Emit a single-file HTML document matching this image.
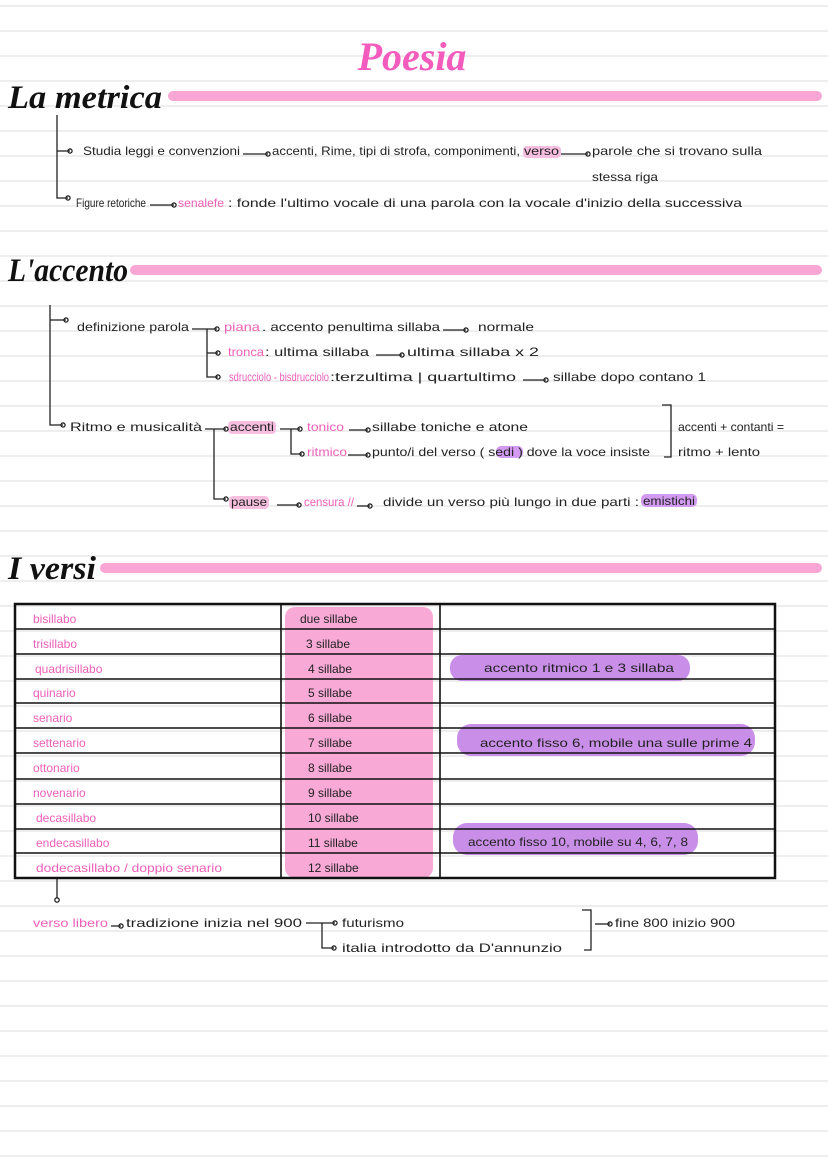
<!DOCTYPE html>
<html><head><meta charset="utf-8"><style>
html,body{margin:0;padding:0;background:#fff;}
svg{display:block;}
text{font-family:"Liberation Sans",sans-serif;font-size:12px;fill:#222;}
.p{fill:#ee5fb9;}
.h{font-family:"Liberation Serif",serif;font-weight:bold;font-style:italic;fill:#111;}
</style></head><body>
<svg width="828" height="1171" viewBox="0 0 828 1171" xmlns="http://www.w3.org/2000/svg">
<defs>
<marker id="a" markerWidth="6" markerHeight="6" refX="3" refY="3" orient="auto"><circle cx="3" cy="3" r="1.6" fill="none" stroke="#222" stroke-width="1"/></marker>
</defs>
<g stroke="#e4e4e4" stroke-width="1.2">
<line x1="0" y1="6" x2="828" y2="6"/><line x1="0" y1="31" x2="828" y2="31"/><line x1="0" y1="56" x2="828" y2="56"/><line x1="0" y1="81" x2="828" y2="81"/><line x1="0" y1="106" x2="828" y2="106"/><line x1="0" y1="131" x2="828" y2="131"/><line x1="0" y1="156" x2="828" y2="156"/><line x1="0" y1="181" x2="828" y2="181"/><line x1="0" y1="206" x2="828" y2="206"/><line x1="0" y1="231" x2="828" y2="231"/><line x1="0" y1="256" x2="828" y2="256"/><line x1="0" y1="281" x2="828" y2="281"/><line x1="0" y1="306" x2="828" y2="306"/><line x1="0" y1="331" x2="828" y2="331"/><line x1="0" y1="356" x2="828" y2="356"/><line x1="0" y1="381" x2="828" y2="381"/><line x1="0" y1="406" x2="828" y2="406"/><line x1="0" y1="431" x2="828" y2="431"/><line x1="0" y1="456" x2="828" y2="456"/><line x1="0" y1="481" x2="828" y2="481"/><line x1="0" y1="506" x2="828" y2="506"/><line x1="0" y1="531" x2="828" y2="531"/><line x1="0" y1="556" x2="828" y2="556"/><line x1="0" y1="581" x2="828" y2="581"/><line x1="0" y1="606" x2="828" y2="606"/><line x1="0" y1="631" x2="828" y2="631"/><line x1="0" y1="656" x2="828" y2="656"/><line x1="0" y1="681" x2="828" y2="681"/><line x1="0" y1="706" x2="828" y2="706"/><line x1="0" y1="731" x2="828" y2="731"/><line x1="0" y1="756" x2="828" y2="756"/><line x1="0" y1="781" x2="828" y2="781"/><line x1="0" y1="806" x2="828" y2="806"/><line x1="0" y1="831" x2="828" y2="831"/><line x1="0" y1="856" x2="828" y2="856"/><line x1="0" y1="881" x2="828" y2="881"/><line x1="0" y1="906" x2="828" y2="906"/><line x1="0" y1="931" x2="828" y2="931"/><line x1="0" y1="956" x2="828" y2="956"/><line x1="0" y1="981" x2="828" y2="981"/><line x1="0" y1="1006" x2="828" y2="1006"/><line x1="0" y1="1031" x2="828" y2="1031"/><line x1="0" y1="1056" x2="828" y2="1056"/><line x1="0" y1="1081" x2="828" y2="1081"/><line x1="0" y1="1106" x2="828" y2="1106"/><line x1="0" y1="1131" x2="828" y2="1131"/><line x1="0" y1="1156" x2="828" y2="1156"/>
</g>
<text x="412" y="70" text-anchor="middle" class="h" style="font-size:40px;fill:#f35bbd;">Poesia</text>
<text x="8" y="108" class="h" style="font-size:33px;" textLength="154" lengthAdjust="spacingAndGlyphs">La metrica</text>
<rect x="168" y="91" width="654" height="10" rx="5" fill="#f8a6d3"/>
<text x="8" y="281" class="h" style="font-size:33px;" textLength="120" lengthAdjust="spacingAndGlyphs">L'accento</text>
<rect x="130" y="265" width="692" height="10" rx="5" fill="#f8a6d3"/>
<text x="8" y="579" class="h" style="font-size:33px;" textLength="88" lengthAdjust="spacingAndGlyphs">I versi</text>
<rect x="100" y="563" width="722" height="10" rx="5" fill="#f8a6d3"/>

<rect x="523" y="146" width="38" height="12" rx="4" fill="#f6bfe0"/>
<rect x="228" y="421" width="48" height="13" rx="4" fill="#f6bfe0"/>
<rect x="229" y="496" width="40" height="13" rx="4" fill="#f6bfe0"/>
<rect x="496" y="446" width="27" height="12" rx="5" fill="#d29af0"/>
<rect x="641" y="494" width="56" height="13" rx="5" fill="#d29af0"/>
<rect x="285" y="607" width="148" height="271" rx="10" fill="#f8a9d6"/>
<rect x="450" y="655" width="240" height="26" rx="12" fill="#c98ee8"/>
<rect x="457" y="724" width="298" height="32" rx="14" fill="#c98ee8"/>
<rect x="453" y="823" width="245" height="32" rx="14" fill="#c98ee8"/>

<g stroke="#222" stroke-width="1.3" fill="none">
<polyline points="57,115 57,198 68,198" marker-end="url(#a)"/>
<line x1="57" y1="151" x2="70" y2="151" marker-end="url(#a)"/>
<line x1="243" y1="154" x2="268" y2="154" marker-end="url(#a)"/>
<line x1="561" y1="154" x2="588" y2="154" marker-end="url(#a)"/>
<line x1="150" y1="205" x2="174" y2="205" marker-end="url(#a)"/>
<polyline points="50,305 50,425 63,425" marker-end="url(#a)"/>
<line x1="50" y1="320" x2="66" y2="320" marker-end="url(#a)"/>
<line x1="192" y1="329" x2="217" y2="329" marker-end="url(#a)"/>
<polyline points="207,329 207,377 218,377" marker-end="url(#a)"/>
<line x1="207" y1="353" x2="218" y2="353" marker-end="url(#a)"/>
<line x1="443" y1="330" x2="466" y2="330" marker-end="url(#a)"/>
<line x1="376" y1="355" x2="402" y2="355" marker-end="url(#a)"/>
<line x1="523" y1="380" x2="546" y2="380" marker-end="url(#a)"/>
<line x1="205" y1="429" x2="226" y2="429" marker-end="url(#a)"/>
<polyline points="214,429 214,499 226,499" marker-end="url(#a)"/>
<line x1="280" y1="429" x2="300" y2="429" marker-end="url(#a)"/>
<polyline points="291,429 291,454 302,454" marker-end="url(#a)"/>
<line x1="349" y1="430" x2="368" y2="430" marker-end="url(#a)"/>
<line x1="348" y1="455" x2="368" y2="455" marker-end="url(#a)"/>
<line x1="277" y1="505" x2="299" y2="505" marker-end="url(#a)"/>
<line x1="357" y1="506" x2="370" y2="506" marker-end="url(#a)"/>
<polyline points="662,405 671,405 671,457 664,457"/>
<line x1="57" y1="878" x2="57" y2="898"/>
<circle cx="57" cy="900" r="2.2"/>
<line x1="111" y1="926" x2="121" y2="926" marker-end="url(#a)"/>
<line x1="306" y1="923" x2="335" y2="923" marker-end="url(#a)"/>
<polyline points="322,923 322,948 334,948" marker-end="url(#a)"/>
<polyline points="582,910 591,910 591,950 584,950"/>
<line x1="595" y1="924" x2="610" y2="924" marker-end="url(#a)"/>
</g>

<g stroke="#111" fill="none">
<rect x="15" y="604" width="760" height="274" stroke-width="2.5"/>
<line x1="281" y1="604" x2="281" y2="878" stroke-width="1.6"/>
<line x1="440" y1="604" x2="440" y2="878" stroke-width="1.6"/>
<g stroke-width="1.6">
<line x1="15" y1="629" x2="775" y2="629"/><line x1="15" y1="654" x2="775" y2="654"/><line x1="15" y1="679" x2="775" y2="679"/><line x1="15" y1="703" x2="775" y2="703"/><line x1="15" y1="728" x2="775" y2="728"/><line x1="15" y1="753" x2="775" y2="753"/><line x1="15" y1="779" x2="775" y2="779"/><line x1="15" y1="804" x2="775" y2="804"/><line x1="15" y1="829" x2="775" y2="829"/><line x1="15" y1="853" x2="775" y2="853"/>
</g>
</g>

<g>
<text x="83" y="155" textLength="157" lengthAdjust="spacingAndGlyphs">Studia leggi e convenzioni</text>
<text x="272" y="155" textLength="248" lengthAdjust="spacingAndGlyphs">accenti, Rime, tipi di strofa, componimenti,</text>
<text x="524" y="155" textLength="35" lengthAdjust="spacingAndGlyphs">verso</text>
<text x="592" y="155" textLength="170" lengthAdjust="spacingAndGlyphs">parole che si trovano sulla</text>
<text x="592" y="181" textLength="66" lengthAdjust="spacingAndGlyphs">stessa riga</text>
<text x="76" y="207" textLength="70" lengthAdjust="spacingAndGlyphs">Figure retoriche</text>
<text x="178" y="207" class="p" textLength="46" lengthAdjust="spacingAndGlyphs">senalefe</text>
<text x="228" y="207" textLength="514" lengthAdjust="spacingAndGlyphs">: fonde l'ultimo vocale di una parola con la vocale d'inizio della successiva</text>

<text x="77" y="331" textLength="112" lengthAdjust="spacingAndGlyphs">definizione parola</text>
<text x="224" y="331" class="p" textLength="36" lengthAdjust="spacingAndGlyphs">piana</text>
<text x="262" y="331" textLength="178" lengthAdjust="spacingAndGlyphs">. accento penultima sillaba</text>
<text x="478" y="331" textLength="56" lengthAdjust="spacingAndGlyphs">normale</text>
<text x="228" y="356" class="p" textLength="36" lengthAdjust="spacingAndGlyphs">tronca</text>
<text x="265" y="356" textLength="104" lengthAdjust="spacingAndGlyphs">: ultima sillaba</text>
<text x="407" y="356" textLength="132" lengthAdjust="spacingAndGlyphs">ultima sillaba x 2</text>
<text x="229" y="381" class="p" textLength="100" lengthAdjust="spacingAndGlyphs">sdrucciolo - bisdrucciolo</text>
<text x="330" y="381" textLength="186" lengthAdjust="spacingAndGlyphs">:terzultima | quartultimo</text>
<text x="553" y="381" textLength="153" lengthAdjust="spacingAndGlyphs">sillabe dopo contano 1</text>
<text x="70" y="431" textLength="132" lengthAdjust="spacingAndGlyphs">Ritmo e musicalità</text>
<text x="230" y="431" textLength="44" lengthAdjust="spacingAndGlyphs">accenti</text>
<text x="307" y="431" class="p" textLength="37" lengthAdjust="spacingAndGlyphs">tonico</text>
<text x="372" y="431" textLength="156" lengthAdjust="spacingAndGlyphs">sillabe toniche e atone</text>
<text x="307" y="456" class="p" textLength="40" lengthAdjust="spacingAndGlyphs">ritmico</text>
<text x="372" y="456" textLength="278" lengthAdjust="spacingAndGlyphs">punto/i del verso ( sedi ) dove la voce insiste</text>
<text x="678" y="431" textLength="106" lengthAdjust="spacingAndGlyphs">accenti + contanti =</text>
<text x="678" y="456" textLength="82" lengthAdjust="spacingAndGlyphs">ritmo + lento</text>
<text x="231" y="506" textLength="36" lengthAdjust="spacingAndGlyphs">pause</text>
<text x="304" y="506" class="p" textLength="50" lengthAdjust="spacingAndGlyphs">censura //</text>
<text x="383" y="506" textLength="256" lengthAdjust="spacingAndGlyphs">divide un verso più lungo in due parti :</text>
<text x="643" y="505" textLength="52" lengthAdjust="spacingAndGlyphs">emistichi</text>
</g>

<text x="33" y="623" class="p">bisillabo</text>
<text x="33" y="648" class="p">trisillabo</text>
<text x="35" y="673" class="p">quadrisillabo</text>
<text x="33" y="697" class="p">quinario</text>
<text x="33" y="722" class="p">senario</text>
<text x="33" y="747" class="p">settenario</text>
<text x="33" y="772" class="p">ottonario</text>
<text x="33" y="797" class="p">novenario</text>
<text x="36" y="822" class="p">decasillabo</text>
<text x="36" y="847" class="p">endecasillabo</text>
<text x="36" y="872" class="p" textLength="186" lengthAdjust="spacingAndGlyphs">dodecasillabo / doppio senario</text>
<text x="300" y="623">due sillabe</text>
<text x="306" y="648">3 sillabe</text>
<text x="308" y="673">4 sillabe</text>
<text x="308" y="697">5 sillabe</text>
<text x="308" y="722">6 sillabe</text>
<text x="308" y="747">7 sillabe</text>
<text x="308" y="772">8 sillabe</text>
<text x="308" y="797">9 sillabe</text>
<text x="308" y="822">10 sillabe</text>
<text x="308" y="847">11 sillabe</text>
<text x="308" y="872">12 sillabe</text>
<text x="484" y="672" textLength="190" lengthAdjust="spacingAndGlyphs">accento ritmico 1 e 3 sillaba</text>
<text x="480" y="747" textLength="272" lengthAdjust="spacingAndGlyphs">accento fisso 6, mobile una sulle prime 4</text>
<text x="468" y="846" textLength="220" lengthAdjust="spacingAndGlyphs">accento fisso 10, mobile su 4, 6, 7, 8</text>

<text x="33" y="927" class="p" textLength="75" lengthAdjust="spacingAndGlyphs">verso libero</text>
<text x="126" y="927" textLength="176" lengthAdjust="spacingAndGlyphs">tradizione inizia nel 900</text>
<text x="342" y="927" textLength="62" lengthAdjust="spacingAndGlyphs">futurismo</text>
<text x="342" y="952" textLength="220" lengthAdjust="spacingAndGlyphs">italia introdotto da D'annunzio</text>
<text x="615" y="927" textLength="120" lengthAdjust="spacingAndGlyphs">fine 800 inizio 900</text>
</svg>
</body></html>
